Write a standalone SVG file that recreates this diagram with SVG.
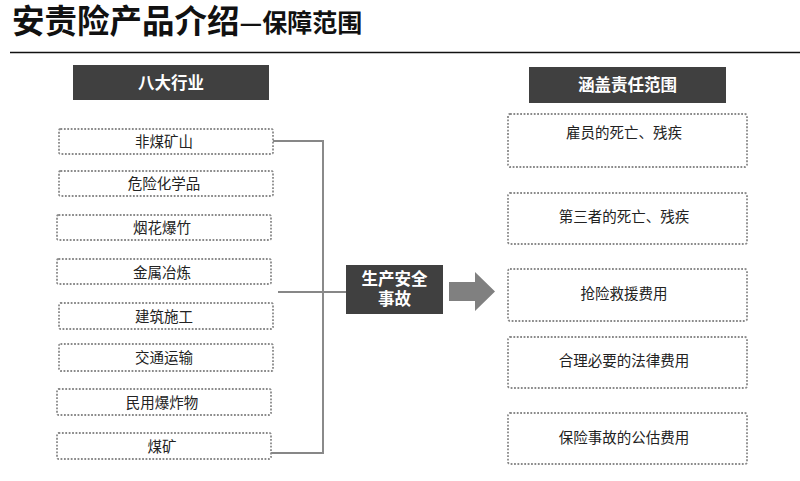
<svg xmlns="http://www.w3.org/2000/svg" width="800" height="481" viewBox="0 0 800 481">
<style>
.t{font-family:"Noto Sans CJK SC","Microsoft YaHei",sans-serif;}
.box{fill:#fff;stroke:#8a8a8a;stroke-width:1.8;stroke-dasharray:1.8 1.6;}
.lbl{font-family:"Noto Sans CJK SC",sans-serif;font-size:14.5px;fill:#222;text-anchor:middle;}
.hdr{fill:#404040;}
.hdt{font-family:"Noto Sans CJK SC",sans-serif;font-size:16.5px;font-weight:bold;fill:#fff;text-anchor:middle;}
</style>
<rect width="800" height="481" fill="#fff"/>
<g id="title">
<text x="12" y="33" class="t" font-size="32.5" font-weight="bold" fill="#111">安责险产品介绍<tspan font-size="25" dy="-1">—保障范围</tspan></text>
<line x1="10" y1="52.5" x2="800" y2="52.5" stroke="#111" stroke-width="1.5"/>
</g>
<g id="hdr-left"><rect class="hdr" x="73" y="65" width="196" height="35"/><text class="hdt" x="171" y="88.5">八大行业</text></g>
<g id="hdr-right"><rect class="hdr" x="529" y="67" width="197" height="36"/><text class="hdt" x="627.5" y="91">涵盖责任范围</text></g>
<g id="connectors">
<path d="M273 141H323M323 453H271M278 292H346" stroke="#111" stroke-width="1.2" fill="none"/>
<path d="M323 140V454" stroke="#8a8a8a" stroke-width="2" fill="none"/>
<polygon points="449,282 475,282 475,272 495,291.5 475,311 475,301 449,301" fill="#808080"/>
</g>
<g id="n1"><rect class="box" x="59" y="129" width="214" height="25" rx="1.5"/><text class="lbl" x="164" y="147">非煤矿山</text></g>
<g id="n2"><rect class="box" x="59" y="171" width="214" height="25" rx="1.5"/><text class="lbl" x="164" y="189">危险化学品</text></g>
<g id="n3"><rect class="box" x="57" y="215" width="214" height="25" rx="1.5"/><text class="lbl" x="162" y="233">烟花爆竹</text></g>
<g id="n4"><rect class="box" x="57" y="259" width="214" height="25" rx="1.5"/><text class="lbl" x="162" y="278">金属冶炼</text></g>
<g id="n5"><rect class="box" x="59" y="303" width="214" height="26" rx="1.5"/><text class="lbl" x="164" y="321.5">建筑施工</text></g>
<g id="n6"><rect class="box" x="59" y="344" width="214" height="27" rx="1.5"/><text class="lbl" x="164" y="363">交通运输</text></g>
<g id="n7"><rect class="box" x="57" y="389" width="214" height="26" rx="1.5"/><text class="lbl" x="162" y="407.5">民用爆炸物</text></g>
<g id="n8"><rect class="box" x="57" y="433" width="214" height="26" rx="1.5"/><text class="lbl" x="162" y="452">煤矿</text></g>
<g id="center"><rect class="hdr" x="346" y="265" width="97" height="49"/><text class="hdt" x="394.5" y="285" font-size="15.5">生产安全<tspan x="394.5" dy="20">事故</tspan></text></g>
<g id="r1"><rect class="box" x="508" y="114" width="239" height="53" rx="2"/><text class="lbl" x="624" y="137.5">雇员的死亡、残疾</text></g>
<g id="r2"><rect class="box" x="508" y="193" width="239" height="51" rx="2"/><text class="lbl" x="624" y="221.5">第三者的死亡、残疾</text></g>
<g id="r3"><rect class="box" x="508" y="269" width="239" height="52" rx="2"/><text class="lbl" x="624" y="298.5">抢险救援费用</text></g>
<g id="r4"><rect class="box" x="508" y="337" width="239" height="51" rx="2"/><text class="lbl" x="624" y="365.5">合理必要的法律费用</text></g>
<g id="r5"><rect class="box" x="508" y="413" width="239" height="51" rx="2"/><text class="lbl" x="624" y="442.5">保险事故的公估费用</text></g>
</svg>
